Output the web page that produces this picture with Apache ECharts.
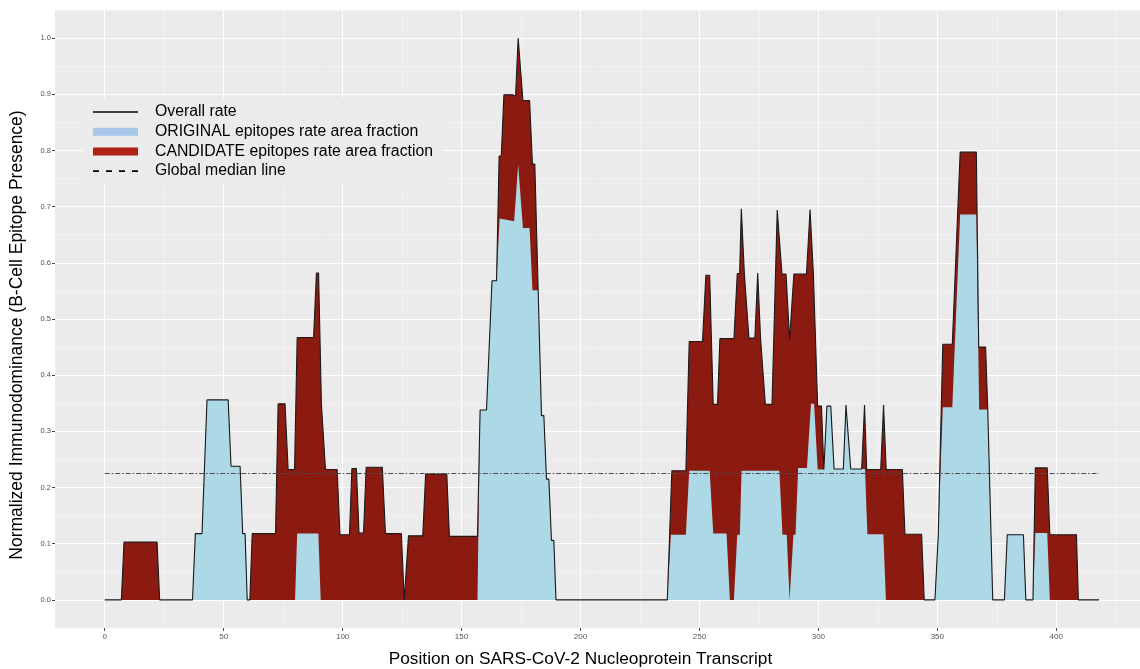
<!DOCTYPE html>
<html>
<head>
<meta charset="utf-8">
<script src="https://cdn.jsdelivr.net/npm/echarts@6/dist/echarts.min.js"></script>
<style>
  html, body { margin: 0; padding: 0; background: #fff; }
  #chart { width: 1140px; height: 669px; }
</style>
</head>
<body>
<div id="chart"></div>
<script>
// overall immunodominance rate along the transcript
const overallPos = [
  0, 7.0, 8.1, 22.0, 23.1, 36.9, 38.1, 40.9, 43.0, 51.9, 53.1, 56.9, 58.0, 59.0, 59.9,
  61.0, 62.0, 71.8, 72.9, 75.8, 77.1, 79.8, 80.9, 87.8, 89.0, 89.9, 91.1, 91.7, 92.8,
  97.7, 98.9, 102.9, 103.9, 105.8, 106.9, 108.8, 109.9, 116.7, 118.0, 124.7, 125.9,
  126.6, 127.7, 133.7, 134.9, 143.8, 144.9, 156.7, 157.8, 160.5, 162.8, 164.7, 165.8,
  166.7, 167.8, 171.7, 172.7, 173.8, 174.5, 175.8, 178.6, 179.8, 180.8, 183.6, 184.6,
  185.7, 186.7, 187.8, 188.8, 189.7, 236.5, 238.4, 244.3, 245.7, 251.3, 252.7, 254.3,
  255.8, 257.6, 258.6, 264.5, 265.9, 266.9, 267.6, 268.9, 269.7, 270.8, 273.3, 274.5,
  275.7, 276.4, 277.7, 280.5, 282.7, 284.7, 286.4, 287.9, 289.7, 295.0, 296.5, 297.9,
  299.7, 301.3, 302.3, 303.6, 305.2, 306.6, 310.5, 311.6, 312.3, 313.6, 318.2, 319.4,
  320.3, 326.2, 327.4, 328.5, 335.3, 336.4, 343.4, 344.5, 349.0, 350.4, 351.2, 352.3,
  356.3, 359.6, 366.4, 367.4, 370.3, 371.2, 373.3, 378.2, 379.4, 386.2, 387.2, 390.2,
  391.2, 396.2, 397.3, 408.5, 409.3, 418.0
];
const overallRate = [
  0, 0, 0.103, 0.103, 0, 0, 0.118, 0.118, 0.356, 0.356, 0.238, 0.238, 0.118, 0.118, 0,
  0, 0.118, 0.118, 0.349, 0.349, 0.232, 0.232, 0.467, 0.467, 0.582, 0.582, 0.348, 0.348, 0.232,
  0.232, 0.116, 0.116, 0.234, 0.234, 0.119, 0.119, 0.236, 0.236, 0.118, 0.118, 0,
  0, 0.114, 0.114, 0.224, 0.224, 0.113, 0.113, 0.338, 0.338, 0.568, 0.568, 0.790,
  0.790, 0.899, 0.899, 0.896, 1.0, 1.0, 0.889, 0.889, 0.776, 0.776, 0.328, 0.328,
  0.215, 0.215, 0.106, 0.106, 0, 0, 0.230, 0.230, 0.460, 0.460, 0.578, 0.578,
  0.348, 0.348, 0.465, 0.465, 0.581, 0.581, 0.696, 0.580, 0.580, 0.466, 0.466, 0.582,
  0.465, 0.465, 0.348, 0.348, 0.694, 0.580, 0.580, 0.463, 0.580, 0.580, 0.695, 0.580,
  0.345, 0.345, 0.232, 0.345, 0.345, 0.233, 0.233, 0.347, 0.347, 0.233, 0.233, 0.347,
  0.232, 0.232, 0.347, 0.232, 0.232, 0.117, 0.117, 0, 0, 0.116, 0.116, 0.455,
  0.455, 0.797, 0.797, 0.450, 0.450, 0.339, 0, 0, 0.116, 0.116, 0, 0,
  0.235, 0.235, 0.116, 0.116, 0, 0
];

// part of the rate covered by ORIGINAL epitopes
const originalPos = [
  0, 36.9, 38.1, 40.9, 43.0, 51.9, 53.1, 56.9, 58.0, 59.0, 59.9, 80.0, 80.9, 89.8, 90.8,
  156.7, 157.8, 160.5, 162.8, 164.7, 166.0, 172.1, 173.8, 174.5, 175.8, 178.6, 179.8,
  182.2, 183.6, 184.6, 185.7, 186.7, 187.8, 188.8, 189.7, 236.5, 238.0, 244.3, 245.7,
  254.3, 255.8, 261.4, 262.8, 264.5, 265.9, 267.0, 267.7, 283.6, 284.9, 286.7, 287.9,
  289.5, 290.4, 291.5, 295.2, 296.9, 298.2, 299.7, 302.3, 303.6, 305.2, 306.6, 310.5,
  311.6, 312.3, 313.6, 319.6, 320.6, 327.3, 328.4, 349.0, 350.4, 351.2, 352.3, 356.3,
  359.6, 366.4, 367.6, 371.2, 373.3, 378.2, 379.4, 386.2, 387.2, 390.2, 391.2, 396.2,
  397.3, 418.0
];
const originalRate = [
  0, 0, 0.118, 0.118, 0.356, 0.356, 0.238, 0.238, 0.118, 0.118, 0, 0, 0.118, 0.118, 0,
  0, 0.338, 0.338, 0.568, 0.568, 0.679, 0.674, 0.775, 0.775, 0.662, 0.662, 0.551,
  0.551, 0.328, 0.328, 0.215, 0.215, 0.106, 0.106, 0, 0, 0.116, 0.116, 0.230,
  0.230, 0.118, 0.118, 0, 0, 0.116, 0.116, 0.230, 0.230, 0.116, 0.116, 0,
  0.116, 0.116, 0.235, 0.235, 0.349, 0.349, 0.232, 0.232, 0.345, 0.345, 0.233, 0.233,
  0.347, 0.347, 0.233, 0.233, 0.117, 0.117, 0, 0, 0.116, 0.116, 0.343, 0.343,
  0.686, 0.686, 0.339, 0.339, 0, 0, 0.116, 0.116, 0, 0, 0.119, 0.119,
  0, 0
];

const medianRate = 0.225;
const medianSpan = [0, 418];

const xMajorTicks = [0, 50, 100, 150, 200, 250, 300, 350, 400];
const xMinorTicks = [25, 75, 125, 175, 225, 275, 325, 375, 425];
const yMajorTicks = [0, 0.1, 0.2, 0.3, 0.4, 0.5, 0.6, 0.7, 0.8, 0.9, 1.0];
const yMinorTicks = [-0.05, 0.05, 0.15, 0.25, 0.35, 0.45, 0.55, 0.65, 0.75, 0.85, 0.95, 1.05];

const pairs = (xs, ys) => xs.map((x, i) => [x, ys[i]]);

const FONT = "Liberation Sans";
const X_MIN = -20.9, X_MAX = 435.2, Y_MIN = -0.05, Y_MAX = 1.05;

function renderChart() {
  const options = {
    animation: false,
    backgroundColor: "#ffffff",
    textStyle: { fontFamily: FONT },
    grid: {
      left: 55, right: 0, top: 10, bottom: 41,
      outerBoundsMode: "none",
      show: true, backgroundColor: "#ebebeb", borderWidth: 0,
    },
    legend: {
      orient: "vertical",
      left: 83, top: 98,
      padding: [6, 10, 6, 10],
      backgroundColor: "#ebebeb",
      itemWidth: 45, itemHeight: 8, itemGap: 3.7,
      textStyle: { fontFamily: FONT, fontSize: 15.8, color: "#000", lineHeight: 16, padding: [0, 0, 0, 12] },
      data: [
        { name: "Overall rate", icon: "path://M0,0H45V1.7H0Z", itemStyle: { color: "#000", borderWidth: 0 } },
        { name: "ORIGINAL epitopes rate area fraction", icon: "rect", itemStyle: { color: "#a6c7e8", borderWidth: 0 } },
        { name: "CANDIDATE epitopes rate area fraction", icon: "rect", itemStyle: { color: "#b22218", borderWidth: 0 } },
        { name: "Global median line", icon: "path://M0,0H6V1.7H0Z M13,0H19V1.7H13Z M26,0H32V1.7H26Z M39,0H45V1.7H39Z", itemStyle: { color: "#000", borderWidth: 0 } },
      ],
    },
    xAxis: [
      {
        type: "value", min: X_MIN, max: X_MAX,
        name: "Position on SARS-CoV-2 Nucleoprotein Transcript",
        nameLocation: "middle", nameGap: 23,
        nameTextStyle: { fontFamily: FONT, fontSize: 17.3, color: "#000", padding: [0, 34, 0, 0] },
        axisLine: { show: false, onZero: false },
        axisTick: { show: true, length: 3, customValues: xMajorTicks, lineStyle: { color: "#444" } },
        axisLabel: { customValues: xMajorTicks, fontSize: 8, color: "#555", margin: 5, fontFamily: FONT },
        splitLine: { show: true, lineStyle: { color: "#ffffff", width: 1.1 } },
      },
      {
        type: "value", min: X_MIN, max: X_MAX, position: "bottom",
        axisLine: { show: false, onZero: false },
        axisTick: { show: false, customValues: xMinorTicks },
        axisLabel: { show: false, customValues: xMinorTicks },
        splitLine: { show: true, lineStyle: { color: "#f7f7f7", width: 0.6 } },
      },
    ],
    yAxis: [
      {
        type: "value", min: Y_MIN, max: Y_MAX,
        name: "Normalized Immunodominance (B-Cell Epitope Presence)",
        nameLocation: "middle", nameGap: 29,
        nameTextStyle: { fontFamily: FONT, fontSize: 17.5, color: "#000", padding: [0, 32, 0, 0] },
        axisLine: { show: false, onZero: false },
        axisTick: { show: true, length: 3, customValues: yMajorTicks, lineStyle: { color: "#444" } },
        axisLabel: {
          customValues: yMajorTicks, fontSize: 7.5, color: "#555", margin: 4, fontFamily: FONT,
          formatter: (v) => v.toFixed(1),
        },
        splitLine: { show: true, lineStyle: { color: "#ffffff", width: 1.1 } },
      },
      {
        type: "value", min: Y_MIN, max: Y_MAX, position: "left",
        axisLine: { show: false, onZero: false },
        axisTick: { show: false, customValues: yMinorTicks },
        axisLabel: { show: false, customValues: yMinorTicks },
        splitLine: { show: true, lineStyle: { color: "#f7f7f7", width: 0.6 } },
      },
    ],
    series: [
      {
        name: "CANDIDATE epitopes rate area fraction",
        type: "line", color: "#8b1a10", symbol: "none", silent: true,
        lineStyle: { width: 0 },
        areaStyle: { color: "#8b1a10", opacity: 1 },
        data: pairs(overallPos, overallRate),
      },
      {
        name: "ORIGINAL epitopes rate area fraction",
        type: "line", color: "#add8e6", symbol: "none", silent: true,
        lineStyle: { width: 0 },
        areaStyle: { color: "#add8e6", opacity: 1 },
        data: pairs(originalPos, originalRate),
      },
      {
        name: "Overall rate",
        type: "line", color: "#1a1a1a", symbol: "none", silent: true,
        lineStyle: { color: "#1a1a1a", width: 1.1 },
        data: pairs(overallPos, overallRate),
      },
      {
        name: "Global median line",
        type: "line", color: "#000", symbol: "none", silent: true,
        lineStyle: { color: "#4a4a4a", width: 1, type: [5, 2, 1.5, 2] },
        data: medianSpan.map((x) => [x, medianRate]),
      },
    ],
  };

  const chart = echarts.init(document.querySelector("#chart"), null, { renderer: "canvas" });
  chart.setOption(options);
}

document.addEventListener("DOMContentLoaded", renderChart);
</script>
</body>
</html>
